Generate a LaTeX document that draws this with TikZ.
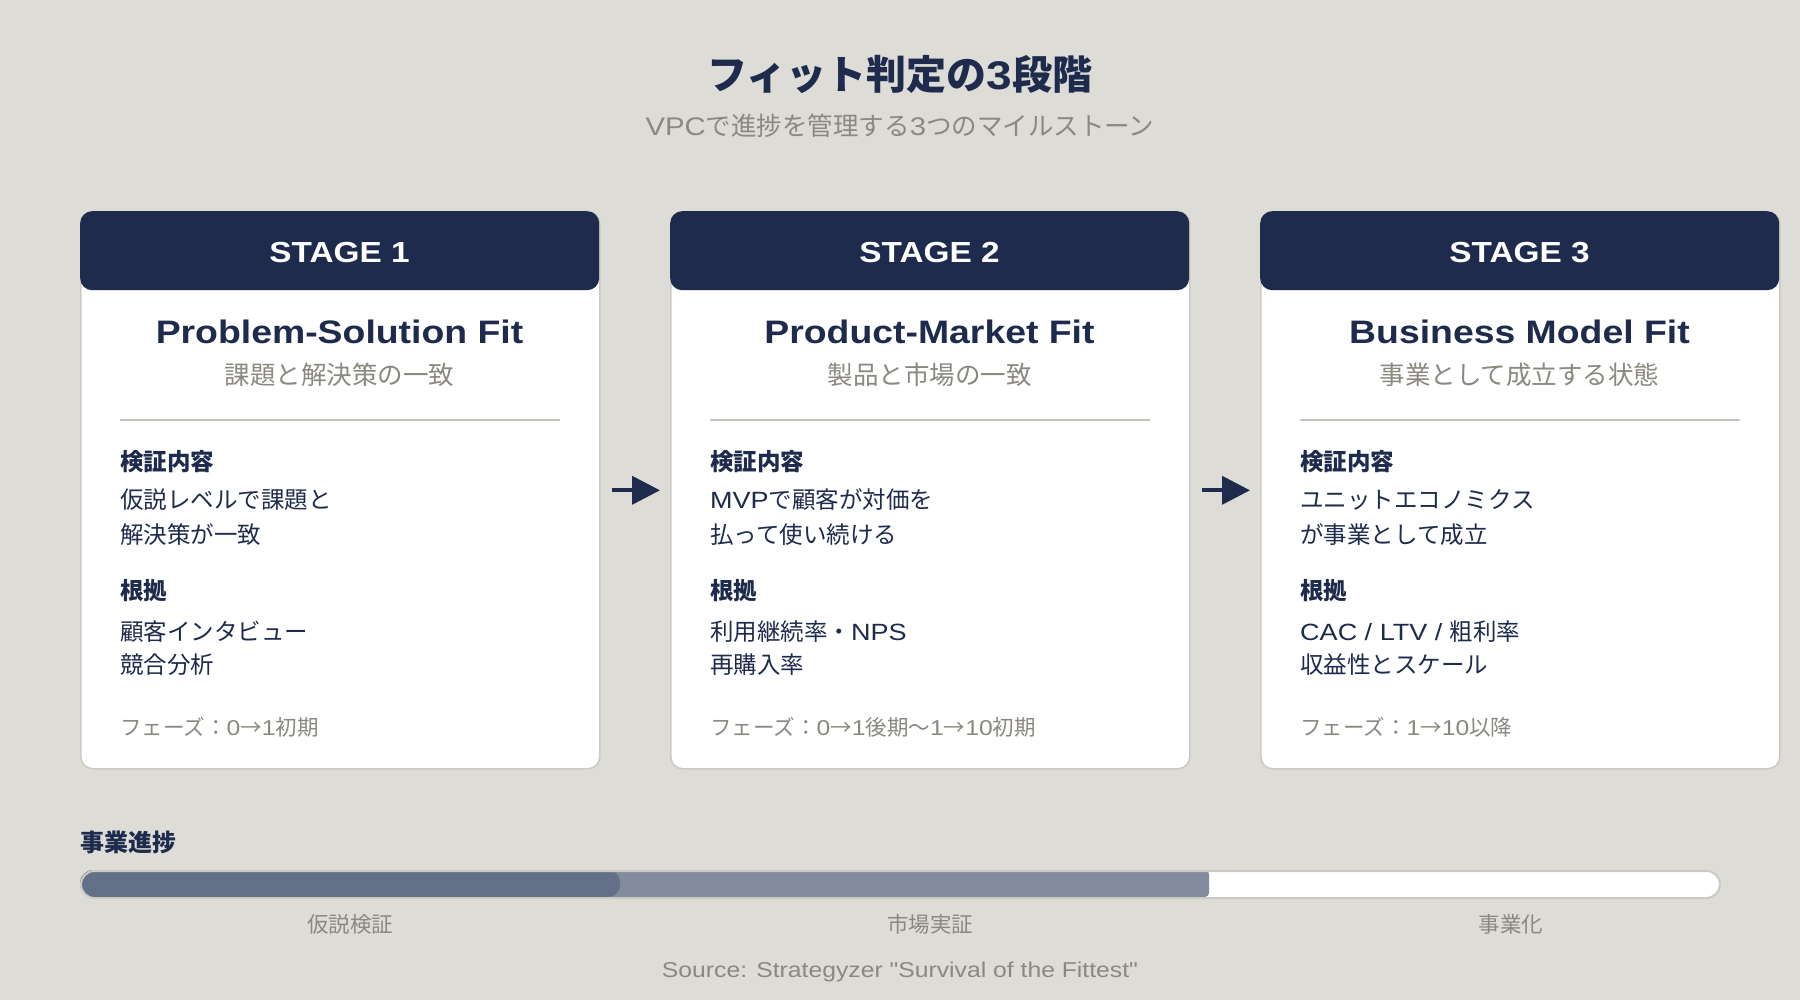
\documentclass[tikz,border=0pt]{standalone}
\usepackage{fontspec}
\setmainfont{Noto Sans CJK JP}
\newfontfamily\latnfam{Liberation Sans}[FakeStretch=1.15]
\newcommand\latn[1]{{\latnfam #1}}
\usetikzlibrary{arrows.meta}
\definecolor{navy}{HTML}{1E2B4D}
\definecolor{bgc}{HTML}{DDDCD7}
\definecolor{grayt}{HTML}{8A8880}
\definecolor{cardline}{HTML}{CBCAC3}
\definecolor{divc}{HTML}{C5C4BD}
\definecolor{bardark}{HTML}{647087}
\definecolor{barmid}{HTML}{838B9F}
\newcommand\fsz[1]{\fontsize{#1}{#1}\selectfont}
\tikzset{
  cardbox/.style={draw=cardline, line width=1.6pt, fill=white, rounded corners=12pt, minimum width=519pt, minimum height=557pt, anchor=north west, inner sep=0pt},
  headbox/.style={fill=navy, rounded corners=12pt, minimum width=519pt, minimum height=79pt, anchor=north west, inner sep=0pt},
  stagetxt/.style={text=white, font=\latnfam\fsz{29}\bfseries, inner sep=0pt},
  titletxt/.style={text=navy, font=\latnfam\fsz{32.5}\bfseries, inner sep=0pt},
  subtxt/.style={text=grayt, font=\fsz{25.5}, inner sep=0pt},
  headtxt/.style={text=navy, font=\fsz{23.5}\bfseries, anchor=west, inner sep=0pt},
  bodytxt/.style={text=navy, font=\fsz{23.5}, anchor=west, inner sep=0pt},
  phasetxt/.style={text=grayt, font=\fsz{21.5}, anchor=west, inner sep=0pt},
  divline/.style={draw=divc, line width=1.5pt},
  arr/.style={draw=navy, line width=4pt, -{Triangle[length=28pt,width=28pt]}},
  bartxt/.style={text=grayt, font=\fsz{21.5}, inner sep=0pt}
}
\newcommand\stagecard[9]{%
  \node[cardbox] (card#2) at (#1,211) {};
  \node[headbox] (head#2) at (#1,211) {};
  \node[stagetxt] (stage#2) at (#1+259.5,252.5) {STAGE #3};
  \node[titletxt] (title#2) at (#1+259.5,332) {#4};
  \node[subtxt] (sub#2) at (#1+259.5,375) {#5};
  \coordinate (dl#2) at (#1+40,420);
  \coordinate (dr#2) at (#1+480,420);
  \draw[divline] (dl#2) -- (dr#2);
  \node[headtxt] (vh#2) at (#1+40,462) {検証内容};
  \node[bodytxt] (va#2) at (#1+40,500) {#6};
  \node[bodytxt] (vb#2) at (#1+40,535) {#7};
  \node[headtxt] (eh#2) at (#1+40,591) {根拠};
  \node[bodytxt] (ea#2) at (#1+40,632) {#8};
  \node[bodytxt] (eb#2) at (#1+40,665) {#9};
  \node[phasetxt] (ph#2) at (#1+40,727) {\phasetext};
}
\begin{document}
\begin{tikzpicture}[x=1pt,y=-1pt]
\fill[bgc] (0,0) rectangle (1800,1000);
\useasboundingbox (0,0) rectangle (1800,1000);
\node[text=navy, font=\fsz{40}\bfseries, inner sep=0pt] (maintitle) at (900,74) {フィット判定の\latn{3}段階};
\node[text=grayt, font=\fsz{25.5}, inner sep=0pt] (subtitle) at (900,126) {\latn{VPC}で進捗を管理する\latn{3}つのマイルストーン};

\def\phasetext{フェーズ：\latn{0}→\latn{1}初期}
\stagecard{80}{1}{1}{Problem-Solution Fit}{課題と解決策の一致}{仮説レベルで課題と}{解決策が一致}{顧客インタビュー}{競合分析}
\def\phasetext{フェーズ：\latn{0}→\latn{1}後期〜\latn{1}→\latn{10}初期}
\stagecard{670}{2}{2}{Product-Market Fit}{製品と市場の一致}{\latn{MVP}で顧客が対価を}{払って使い続ける}{利用継続率・\latn{NPS}}{再購入率}
\def\phasetext{フェーズ：\latn{1}→\latn{10}以降}
\stagecard{1260}{3}{3}{Business Model Fit}{事業として成立する状態}{ユニットエコノミクス}{が事業として成立}{\latn{CAC / LTV / }粗利率}{収益性とスケール}

\draw[arr, shorten <=11pt, shorten >=10pt] (card1.east) -- (card2.west);
\draw[arr, shorten <=11pt, shorten >=10pt] (card2.east) -- (card3.west);

\node[text=navy, font=\fsz{24}\bfseries, anchor=west, inner sep=0pt] (proglabel) at (80,842) {事業進捗};
\begin{scope}
  \clip[rounded corners=13.5pt] (80,870) rectangle (1719,897);
  \fill[white] (80,870) rectangle (1719,897);
  \fill[barmid, rounded corners=4pt] (60,870) rectangle (1209,897);
  \fill[bardark, rounded corners=12pt] (60,870) rectangle (620,897);
\end{scope}
\node[draw=cardline, line width=2pt, rounded corners=13.5pt, minimum width=1639pt, minimum height=27pt, inner sep=0pt, anchor=north west] (bar) at (80,870) {};
\node[bartxt] (b1) at (350,924) {仮説検証};
\node[bartxt] (b2) at (930,924) {市場実証};
\node[bartxt] (b3) at (1511,924) {事業化};
\node[text=grayt, font=\latnfam\fsz{21.5}, inner sep=0pt] (source) at (900,972) {Source: Strategyzer \symbol{"22}Survival of the Fittest\symbol{"22}};
\end{tikzpicture}
\end{document}
